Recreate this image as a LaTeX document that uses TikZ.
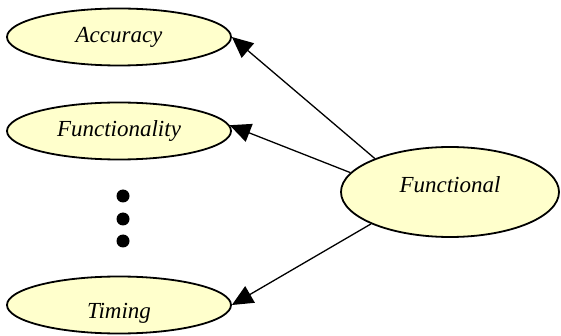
\documentclass[tikz,border=0pt]{standalone}
\usepackage{fontspec}
\setmainfont{Liberation Serif}
\usetikzlibrary{shapes.geometric,arrows.meta}
\definecolor{pale}{RGB}{255,255,204}
\begin{document}
\begin{tikzpicture}[x=1pt,y=-1pt,
                    enode/.style = {shape = ellipse,
                                    draw = black,
                                    fill = pale,
                                    line width = 1.8pt,
                                    inner sep = 0pt,
                                    minimum width = 224pt,
                                    minimum height = 57pt,
                                    font = \fontsize{23}{27}\selectfont\itshape},
                    dnode/.style = {shape = circle,
                                    fill = black,
                                    inner sep = 0pt,
                                    minimum size = 13pt},
                    link/.style = {line width = 1.3pt,
                                   -{Triangle[length = 21pt, width = 19pt]}}]
		\useasboundingbox (0,0) rectangle (561,336);
		\node[enode] (acc) at (119,37) {Accuracy};
		\node[enode] (fty) at (119,131) {Functionality};
		\node[enode, text height = 31pt, text depth = 5pt] (tim) at (119,305) {Timing};
		\node[enode, minimum width = 218pt, minimum height = 90pt, text depth = 14pt] (fun) at (450,192) {Functional};
		\node[dnode] (d1) at (123,196) {};
		\node[dnode] (d2) at (123,219) {};
		\node[dnode] (d3) at (123,241) {};
		\draw[link] (fun.156) -- (acc.east);
		\draw[link] (fun.169) -- (fty.3);
		\draw[link] (fun.202) -- (tim.east);
	\end{tikzpicture}
\end{document}
